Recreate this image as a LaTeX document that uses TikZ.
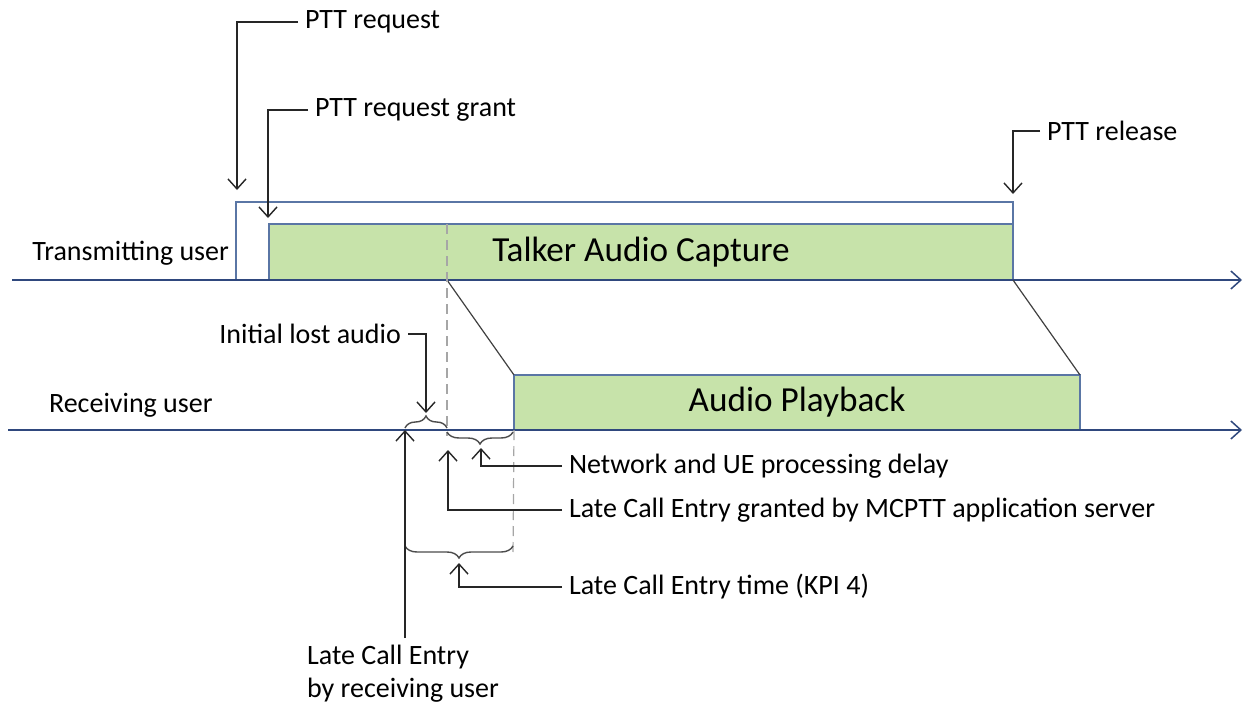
\documentclass[tikz,border=0pt]{standalone}
\usepackage{fontspec}
\setmainfont{Carlito}
\usetikzlibrary{arrows.meta}
\usetikzlibrary{decorations.pathreplacing}
\definecolor{axisblue}{RGB}{47,72,125}
\definecolor{boxblue}{RGB}{90,118,165}
\definecolor{boxgreen}{RGB}{199,227,170}
\tikzstyle{lbl}=[font=\fontsize{14}{16.5}\selectfont, text=black]
\tikzstyle{biglbl}=[font=\fontsize{17.6}{20}\selectfont, text=black]
\tikzstyle{timeaxis}=[draw=axisblue, line width=0.75pt, -{Straight Barb[length=5pt, width=9pt]}]
\tikzstyle{slot}=[draw=boxblue, line width=0.7pt, inner sep=0, outer sep=0]
\tikzstyle{activity}=[slot, fill=boxgreen, biglbl]
\tikzstyle{callout}=[draw=black!85, line width=0.7pt, -{Straight Barb[length=5pt, width=9pt]}]
\tikzstyle{lapse}=[draw=black!70, line width=0.7pt, decorate, decoration={brace, amplitude=6pt}]
\tikzstyle{marker}=[draw=black!35, line width=0.6pt, dash pattern=on 5pt off 3pt]
\begin{document}
\begin{tikzpicture}[x=0.5pt, y=-0.5pt]
    \useasboundingbox (0,0) rectangle (1244,702);
    % time lines
    \coordinate (txstart) at (12,280);
    \coordinate (txend)   at (1242,280);
    \coordinate (rxstart) at (8,430);
    \coordinate (rxend)   at (1242,430);
    \node[lbl, anchor=east]  (txuser) at (236,253) {Transmitting user};
    \node[lbl, anchor=west]  (rxuser) at (42,405) {Receiving user};

    % transmitting side
    \node[slot, fill=white, minimum width=388.5pt, minimum height=39pt] (ptt) at (624.5,241) {};
    \node[activity, minimum width=372pt, minimum height=28pt] (talker) at (641,252) {Talker Audio Capture};
    \draw[timeaxis] (txstart) -- (txend);

    % receiving side
    \node[activity, minimum width=283pt, minimum height=27.5pt] (playback) at (797,402.5) {Audio Playback};
    \draw[timeaxis] (rxstart) -- (rxend);

    \coordinate (lce)    at (447,280);
    \coordinate (lcetop) at (447,224);
    \coordinate (lcebot) at (447,436);
    \coordinate (entry)  at (405,430);
    \coordinate (playbot) at (513,557);
    \draw[draw=black!75, line width=0.6pt] (lce) -- (playback.north west);
    \draw[draw=black!75, line width=0.6pt] (talker.south east) -- (playback.north east);
    \draw[marker] (lcetop) -- (lcebot);
    \draw[marker] (playback.south west) -- (playbot);

    % braces
    \draw[lapse] (405,428) -- (447,428);
    \draw[lapse] (513,432) -- (447,432);
    \draw[lapse] (513,546) -- (405,546);

    % events on top
    \node[lbl, anchor=west] (req)     at (298,22)  {PTT request};
    \node[lbl, anchor=west] (grant)   at (308,110) {PTT request grant};
    \node[lbl, anchor=west] (release) at (1040,131) {PTT release};
    \coordinate (reqtip)     at (237,190);
    \coordinate (granttip)   at (268,218);
    \coordinate (releasetip) at (1013,194);
    \draw[callout] (req.west) -| (reqtip);
    \draw[callout] (grant.west) -| (granttip);
    \draw[callout] (release.west) -| (releasetip);

    % delays
    \node[lbl, anchor=east] (lost)  at (408,334) {Initial lost audio};
    \node[lbl, anchor=west] (netw)  at (562,466) {Network and UE processing delay};
    \node[lbl, anchor=west] (granted) at (562,510) {Late Call Entry granted by MCPTT application server};
    \node[lbl, anchor=west] (kpi)   at (562,587) {Late Call Entry time (KPI 4)};
    \node[lbl, anchor=north, align=left] (late) at (403,638) {Late Call Entry\\by receiving user};
    \coordinate (losttip)    at (426,413);
    \coordinate (netwtip)    at (481,448);
    \coordinate (grantedtip) at (448,450);
    \coordinate (kpitip)     at (459,563);
    \draw[callout] (lost.east) -| (losttip);
    \draw[callout] (netw.west) -| (netwtip);
    \draw[callout] (granted.west) -| (grantedtip);
    \draw[callout] (kpi.west) -| (kpitip);
    \draw[callout] (late.north -| entry) -- (entry);
\end{tikzpicture}
\end{document}
